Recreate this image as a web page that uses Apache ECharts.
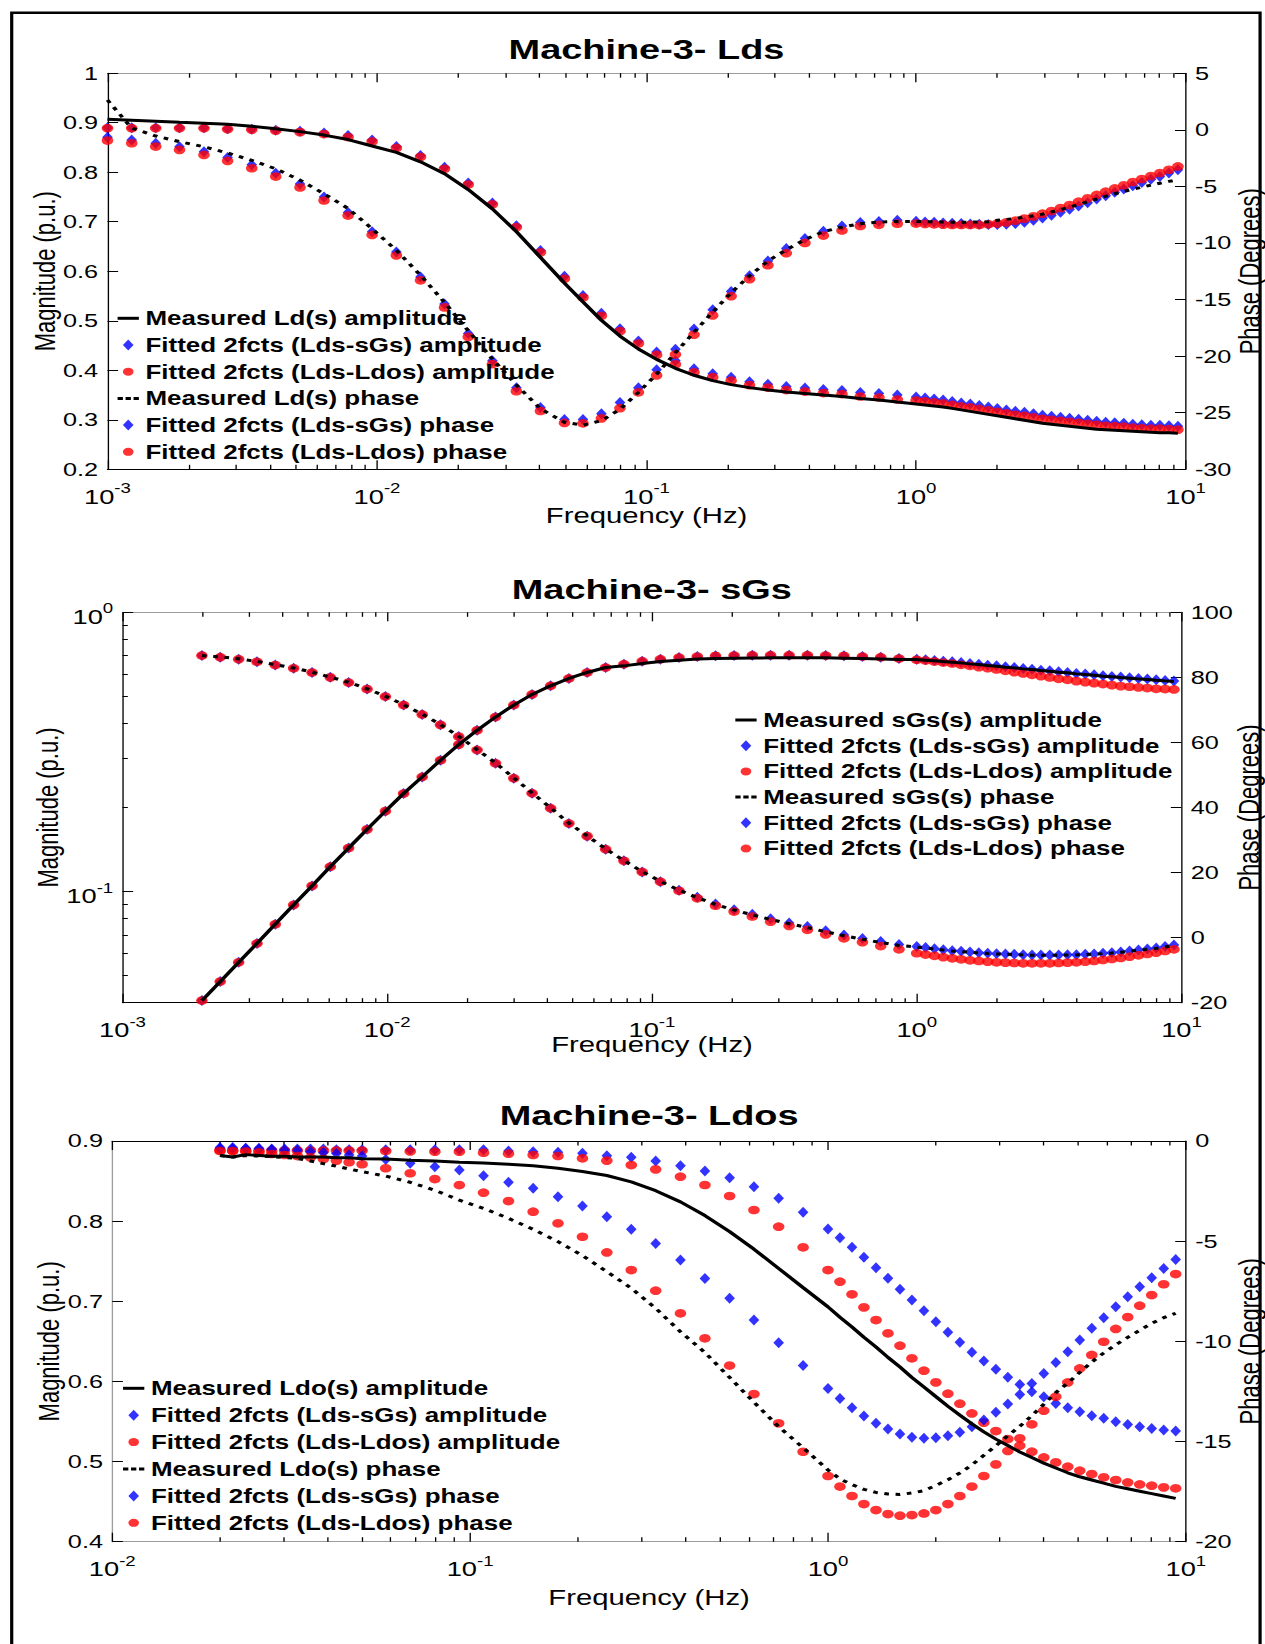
<!DOCTYPE html>
<html lang="en">
<head>
<meta charset="utf-8">
<title>Machine-3 frequency response</title>
<script src="https://cdn.jsdelivr.net/npm/echarts@6/dist/echarts.min.js"></script>
<style>
  html, body { margin: 0; padding: 0; background: #ffffff; }
  #page { width: 1265px; height: 1644px; overflow: hidden; }
  /* the figure is laid out on a 951px-wide surface and widened to the full 1265px */
  #fig { width: 951px; height: 1644px; transform: scaleX(1.33018); transform-origin: 0 0; }
</style>
</head>
<body>
<div id="page"><div id="fig"></div></div>
<script>
// ---------------- Machine-3, Lds ----------------
const ldsFreq = [0.001, 0.00123, 0.00151, 0.00185, 0.00228, 0.00279, 0.00343, 0.00421, 0.00518, 0.00636, 0.00781, 0.00959, 0.0118, 0.0145, 0.0178, 0.0218, 0.0268, 0.0329, 0.0404, 0.0496,
  0.0581, 0.068, 0.0797, 0.0933, 0.109, 0.128, 0.15, 0.176, 0.206, 0.241, 0.282, 0.33, 0.387, 0.453, 0.531, 0.621, 0.728, 0.852,
  1, 1.08, 1.167, 1.26, 1.362, 1.471, 1.589, 1.716, 1.854, 2.002, 2.163, 2.336, 2.524, 2.726, 2.945, 3.181, 3.436, 3.712, 4.009, 4.331, 4.678, 5.053, 5.459, 5.896, 6.369, 6.88, 7.432, 8.028, 8.672, 9.367];
const ldsAmpMeasured = [0.907, 0.905, 0.903, 0.901, 0.899, 0.897, 0.893, 0.888, 0.882, 0.875, 0.866, 0.853, 0.840, 0.821, 0.797, 0.765, 0.726, 0.680, 0.628, 0.576,
  0.538, 0.501, 0.469, 0.443, 0.422, 0.404, 0.390, 0.379, 0.371, 0.365, 0.360, 0.356, 0.353, 0.350, 0.347, 0.343, 0.340, 0.336,
  0.332, 0.330, 0.328, 0.326, 0.323, 0.320, 0.317, 0.314, 0.311, 0.308, 0.305, 0.302, 0.299, 0.296, 0.293, 0.291, 0.289, 0.287, 0.285, 0.283, 0.281, 0.280, 0.279, 0.278, 0.277, 0.276, 0.275, 0.274, 0.274, 0.273];
const ldsAmpFitSgs = [0.890, 0.890, 0.890, 0.890, 0.890, 0.888, 0.887, 0.885, 0.883, 0.879, 0.874, 0.865, 0.852, 0.834, 0.810, 0.778, 0.738, 0.692, 0.642, 0.590,
  0.551, 0.515, 0.484, 0.459, 0.437, 0.419, 0.403, 0.393, 0.386, 0.377, 0.372, 0.367, 0.364, 0.361, 0.359, 0.355, 0.353, 0.350,
  0.346, 0.344, 0.342, 0.340, 0.337, 0.334, 0.332, 0.329, 0.326, 0.323, 0.320, 0.317, 0.315, 0.312, 0.309, 0.307, 0.305, 0.303, 0.301, 0.299, 0.297, 0.295, 0.294, 0.293, 0.291, 0.290, 0.289, 0.289, 0.288, 0.287];
const ldsAmpFitLdos = [0.889, 0.889, 0.889, 0.889, 0.889, 0.887, 0.886, 0.884, 0.881, 0.877, 0.871, 0.862, 0.849, 0.831, 0.807, 0.775, 0.735, 0.689, 0.638, 0.585,
  0.547, 0.510, 0.479, 0.454, 0.431, 0.412, 0.396, 0.386, 0.379, 0.370, 0.365, 0.360, 0.357, 0.354, 0.352, 0.347, 0.345, 0.341,
  0.339, 0.337, 0.335, 0.333, 0.330, 0.327, 0.325, 0.322, 0.319, 0.316, 0.313, 0.310, 0.308, 0.305, 0.302, 0.300, 0.298, 0.296, 0.294, 0.292, 0.290, 0.288, 0.287, 0.286, 0.284, 0.283, 0.282, 0.282, 0.281, 0.280];
const ldsPhaseMeasured = [2.63, 0.15, -0.55, -1.05, -1.5, -2.05, -2.7, -3.45, -4.45, -5.65, -6.95, -8.75, -10.65, -12.85, -15.25, -17.75, -20.25, -22.55, -24.65, -25.85,
  -26.1, -25.7, -24.7, -23.2, -21.6, -19.7, -17.9, -16.1, -14.4, -12.9, -11.6, -10.6, -9.7, -9.0, -8.6, -8.3, -8.15, -8.1,
  -8.1, -8.12, -8.14, -8.15, -8.16, -8.16, -8.16, -8.15, -8.13, -8.0, -7.92, -7.83, -7.72, -7.6, -7.45, -7.26, -7.05, -6.82, -6.6, -6.36, -6.12, -5.88, -5.65, -5.45, -5.26, -5.07, -4.89, -4.72, -4.56, -4.41];
const ldsPhaseFitSgs = [-0.65, -0.9, -1.2, -1.5, -1.95, -2.45, -3.1, -3.85, -4.8, -5.95, -7.3, -9.0, -10.8, -13.0, -15.4, -18.0, -20.4, -22.8, -24.55, -25.6,
  -25.6, -25.1, -24.1, -22.8, -21.2, -19.4, -17.6, -15.9, -14.3, -12.9, -11.6, -10.5, -9.6, -8.97, -8.5, -8.2, -8.1, -8.0,
  -8.09, -8.15, -8.18, -8.24, -8.26, -8.29, -8.32, -8.35, -8.38, -8.38, -8.35, -8.29, -8.18, -8.0, -7.79, -7.56, -7.29, -7.03, -6.74, -6.44, -6.12, -5.82, -5.53, -5.24, -4.94, -4.65, -4.38, -4.12, -3.82, -3.53];
const ldsPhaseFitLdos = [-0.95, -1.19, -1.48, -1.78, -2.22, -2.75, -3.4, -4.13, -5.1, -6.25, -7.58, -9.29, -11.1, -13.3, -15.7, -18.3, -20.7, -23.1, -24.85, -25.9,
  -25.94, -25.5, -24.6, -23.2, -21.7, -19.85, -18.1, -16.4, -14.7, -13.2, -11.97, -10.9, -10.0, -9.35, -8.9, -8.5, -8.4, -8.3,
  -8.29, -8.32, -8.35, -8.38, -8.41, -8.41, -8.41, -8.41, -8.35, -8.29, -8.18, -8.03, -7.85, -7.65, -7.41, -7.18, -6.91, -6.65, -6.35, -6.06, -5.76, -5.47, -5.18, -4.91, -4.62, -4.35, -4.09, -3.82, -3.53, -3.24];

// ---------------- Machine-3, sGs ----------------
const sgsFreq = [0.001995, 0.002339, 0.002746, 0.003221, 0.003776, 0.00443, 0.0052, 0.006095, 0.007145, 0.00839, 0.00984, 0.01153, 0.01355, 0.01589, 0.01862, 0.02184, 0.02564, 0.03006, 0.03524, 0.0414,
  0.04853, 0.05689, 0.06683, 0.07834, 0.09183, 0.1076, 0.1265, 0.1483, 0.1738, 0.2042, 0.2393, 0.2805, 0.3296, 0.3864, 0.4529, 0.5309, 0.6237, 0.7311, 0.857,
  1, 1.08, 1.167, 1.26, 1.362, 1.471, 1.589, 1.716, 1.854, 2.002, 2.163, 2.336, 2.524, 2.726, 2.945, 3.181, 3.436, 3.712, 4.009, 4.331, 4.678, 5.053, 5.459, 5.896, 6.369, 6.88, 7.432, 8.028, 8.672, 9.367];
const sgsAmpMeasured = [0.0407, 0.0476, 0.0558, 0.0652, 0.0764, 0.0896, 0.1048, 0.1228, 0.1432, 0.167, 0.1941, 0.2245, 0.2574, 0.2953, 0.3359, 0.3779, 0.4217, 0.4654, 0.5081, 0.5455,
  0.5796, 0.6088, 0.6343, 0.643, 0.656, 0.667, 0.674, 0.68, 0.683, 0.685, 0.686, 0.687, 0.687, 0.687, 0.687, 0.685, 0.683, 0.68, 0.677,
  0.6774, 0.6738, 0.6701, 0.6664, 0.6628, 0.659, 0.6536, 0.65, 0.6447, 0.6411, 0.6359, 0.6324, 0.6272, 0.6238, 0.6187, 0.6153, 0.6103, 0.607, 0.6019, 0.5987, 0.5954, 0.5905, 0.5873, 0.584, 0.5808, 0.5776, 0.5744, 0.5712, 0.5681, 0.565];
const sgsAmpFitSgs = [0.0407, 0.0476, 0.0558, 0.0652, 0.0764, 0.0896, 0.1048, 0.1228, 0.1432, 0.167, 0.1941, 0.2245, 0.2574, 0.2953, 0.3359, 0.3779, 0.4217, 0.4654, 0.5081, 0.5455,
  0.5796, 0.6088, 0.6343, 0.652, 0.6683, 0.6794, 0.6887, 0.6945, 0.6983, 0.7002, 0.7021, 0.7021, 0.7021, 0.7021, 0.7002, 0.6983, 0.6945, 0.6907, 0.6832,
  0.6794, 0.6758, 0.6721, 0.6684, 0.6648, 0.661, 0.6556, 0.652, 0.6467, 0.6431, 0.6379, 0.6344, 0.6292, 0.6258, 0.6207, 0.6173, 0.6123, 0.609, 0.6039, 0.6007, 0.5974, 0.5925, 0.5893, 0.586, 0.5828, 0.5796, 0.5764, 0.5732, 0.5701, 0.567];
const sgsAmpFitLdos = [0.0407, 0.0476, 0.0558, 0.0652, 0.0764, 0.0896, 0.1048, 0.1228, 0.1432, 0.167, 0.1941, 0.2245, 0.2574, 0.2953, 0.3359, 0.3779, 0.4217, 0.4654, 0.5081, 0.5455,
  0.5796, 0.6088, 0.6343, 0.652, 0.6683, 0.6794, 0.6887, 0.6945, 0.6983, 0.7002, 0.7021, 0.7021, 0.7021, 0.7021, 0.7002, 0.6983, 0.6945, 0.6907, 0.6832,
  0.6758, 0.6721, 0.6665, 0.661, 0.6556, 0.6484, 0.6431, 0.6361, 0.631, 0.6241, 0.6173, 0.6106, 0.6039, 0.5974, 0.5908, 0.5844, 0.578, 0.5732, 0.567, 0.5623, 0.5577, 0.5532, 0.5486, 0.5441, 0.5412, 0.5383, 0.5353, 0.5323, 0.5309, 0.5294];
const sgsPhaseMeasured = [86.7, 86.3, 85.7, 84.9, 83.9, 82.9, 81.6, 80.1, 78.5, 76.5, 74.2, 71.6, 68.7, 65.5, 61.9, 57.8, 53.7, 49.1, 44.5, 39.9,
  35.2, 31.3, 27.3, 23.7, 20.3, 17.3, 14.6, 12.3, 10.2, 8.5, 7.0, 5.6, 4.3, 3.1, 1.8, 0.6, -0.5, -1.5, -2.4,
  -2.9, -3.2, -3.5, -3.8, -4.1, -4.3, -4.5, -4.7, -4.9, -5.0, -5.1, -5.2, -5.3, -5.4, -5.4, -5.4, -5.4, -5.3, -5.3, -5.2, -5.1, -4.9, -4.7, -4.5, -4.2, -3.9, -3.6, -3.3, -2.9, -2.4];
const sgsPhaseFitSgs = [86.7, 86.2, 85.6, 84.8, 83.8, 82.8, 81.5, 80.0, 78.4, 76.4, 74.1, 71.5, 68.6, 65.4, 61.8, 57.7, 53.6, 49.0, 44.4, 39.8,
  35.1, 31.2, 27.2, 23.6, 20.2, 17.2, 14.6, 12.4, 10.3, 8.6, 7.2, 5.8, 4.5, 3.4, 2.1, 0.8, -0.3, -1.2, -2.1,
  -2.76, -3.07, -3.38, -3.69, -4.0, -4.2, -4.41, -4.61, -4.81, -4.92, -5.02, -5.12, -5.23, -5.33, -5.33, -5.33, -5.33, -5.23, -5.23, -5.12, -5.02, -4.81, -4.61, -4.41, -4.1, -3.79, -3.48, -3.18, -2.76, -2.25];
const sgsPhaseFitLdos = [86.7, 86.2, 85.6, 84.8, 83.8, 82.8, 81.5, 80.0, 78.4, 76.4, 74.1, 71.5, 68.6, 65.4, 61.8, 57.7, 53.6, 49.0, 44.4, 39.8,
  35.1, 31.2, 27.2, 23.6, 20.2, 17.2, 14.4, 12.1, 9.8, 8.0, 6.5, 4.9, 3.6, 2.4, 1.0, -0.2, -1.4, -2.6, -3.6,
  -4.8, -5.2, -5.6, -6.0, -6.35, -6.66, -6.97, -7.17, -7.38, -7.58, -7.68, -7.79, -7.89, -7.89, -7.89, -7.89, -7.79, -7.68, -7.58, -7.38, -7.17, -6.86, -6.56, -6.25, -5.84, -5.43, -5.02, -4.61, -4.1, -3.59];

// ---------------- Machine-3, Ldos ----------------
const ldosFreq = [0.02, 0.0217, 0.0236, 0.0257, 0.0279, 0.0303, 0.0329, 0.0358, 0.0389, 0.0423, 0.0459, 0.0499,
  0.0581, 0.068, 0.0797, 0.0933, 0.109, 0.128, 0.15, 0.176, 0.206, 0.241, 0.282, 0.33, 0.387, 0.453, 0.531, 0.621, 0.728, 0.852,
  1, 1.08, 1.167, 1.26, 1.362, 1.471, 1.589, 1.716, 1.854, 2.002, 2.163, 2.336, 2.524, 2.726, 2.945, 3.181, 3.436, 3.712, 4.009, 4.331, 4.678, 5.053, 5.459, 5.896, 6.369, 6.88, 7.432, 8.028, 8.672, 9.367];
const ldosAmpMeasured = [0.882, 0.880, 0.883, 0.882, 0.881, 0.881, 0.880, 0.880, 0.880, 0.879, 0.879, 0.878,
  0.8775, 0.876, 0.875, 0.8735, 0.8725, 0.871, 0.869, 0.866, 0.862, 0.857, 0.849, 0.838, 0.824, 0.807, 0.787, 0.765, 0.741, 0.717,
  0.693, 0.680, 0.668, 0.655, 0.643, 0.630, 0.618, 0.605, 0.593, 0.581, 0.569, 0.558, 0.547, 0.537, 0.528, 0.520, 0.512, 0.505, 0.498, 0.492, 0.486, 0.481, 0.477, 0.473, 0.469, 0.466, 0.463, 0.460, 0.457, 0.454];
const ldosAmpFitSgs = [0.892, 0.892, 0.891, 0.891, 0.890, 0.890, 0.890, 0.890, 0.890, 0.889, 0.889, 0.889,
  0.889, 0.889, 0.889, 0.889, 0.889, 0.8875, 0.8867, 0.8859, 0.8846, 0.8817, 0.8796, 0.875, 0.8692, 0.8626, 0.8542, 0.843, 0.8285, 0.811,
  0.7902, 0.7794, 0.7673, 0.7548, 0.7419, 0.7286, 0.7149, 0.7016, 0.6883, 0.6745, 0.6612, 0.6488, 0.6363, 0.6255, 0.6151, 0.6051, 0.5963, 0.5872, 0.5809, 0.5726, 0.5672, 0.5622, 0.5572, 0.5539, 0.5498, 0.5464, 0.5435, 0.5414, 0.5393, 0.5381];
const ldosAmpFitLdos = [0.8884, 0.888, 0.888, 0.888, 0.888, 0.888, 0.888, 0.888, 0.888, 0.888, 0.888, 0.888,
  0.8875, 0.887, 0.8867, 0.8867, 0.8854, 0.8842, 0.8825, 0.8813, 0.8784, 0.8755, 0.87, 0.8646, 0.8555, 0.8451, 0.8314, 0.8139, 0.7931, 0.7673,
  0.739, 0.7245, 0.7087, 0.6924, 0.6766, 0.66, 0.6446, 0.6288, 0.6134, 0.5988, 0.5847, 0.5722, 0.5601, 0.5485, 0.5381, 0.5281, 0.5198, 0.5123, 0.5052, 0.499, 0.4936, 0.4886, 0.4844, 0.4803, 0.477, 0.474, 0.4715, 0.4699, 0.4678, 0.4666];
const ldosPhaseMeasured = [-0.73, -0.8, -0.73, -0.75, -0.78, -0.82, -0.87, -1.0, -1.13, -1.26, -1.4, -1.53,
  -1.75, -2.06, -2.46, -2.95, -3.36, -3.86, -4.41, -5.02, -5.72, -6.52, -7.35, -8.35, -9.52, -10.56, -11.8, -13.04, -14.26, -15.31,
  -16.42, -16.87, -17.15, -17.39, -17.54, -17.62, -17.64, -17.57, -17.45, -17.19, -16.91, -16.57, -16.17, -15.69, -15.21, -14.71, -14.24, -13.71, -13.14, -12.56, -12.08, -11.55, -11.03, -10.58, -10.17, -9.8, -9.45, -9.1, -8.82, -8.6];
const ldosPhaseFitSgs = [-0.37, -0.37, -0.38, -0.4, -0.42, -0.45, -0.48, -0.53, -0.58, -0.63, -0.7, -0.75,
  -0.92, -1.11, -1.28, -1.45, -1.73, -2.06, -2.36, -2.78, -3.24, -3.78, -4.41, -5.11, -5.94, -6.86, -7.85, -8.94, -10.07, -11.21,
  -12.35, -12.85, -13.31, -13.73, -14.09, -14.38, -14.63, -14.79, -14.84, -14.81, -14.71, -14.54, -14.26, -13.93, -13.54, -13.13, -12.65, -12.1, -11.6, -11.05, -10.52, -9.93, -9.35, -8.82, -8.27, -7.77, -7.27, -6.82, -6.36, -5.91];
const ldosPhaseFitLdos = [-0.5, -0.5, -0.53, -0.57, -0.65, -0.7, -0.75, -0.82, -0.9, -0.98, -1.06, -1.16,
  -1.36, -1.61, -1.9, -2.2, -2.58, -3.0, -3.53, -4.11, -4.78, -5.56, -6.44, -7.47, -8.6, -9.85, -11.21, -12.63, -14.09, -15.51,
  -16.72, -17.25, -17.72, -18.12, -18.42, -18.62, -18.7, -18.67, -18.59, -18.42, -18.12, -17.72, -17.25, -16.72, -16.14, -15.47, -14.84, -14.14, -13.46, -12.76, -12.05, -11.35, -10.68, -10.02, -9.38, -8.79, -8.22, -7.69, -7.15, -6.64];

// legend entries of each panel
const ldsNames = ['Measured Ld(s) amplitude', 'Fitted 2fcts (Lds-sGs) amplitude', 'Fitted 2fcts (Lds-Ldos) amplitude',
  'Measured Ld(s) phase', 'Fitted 2fcts (Lds-sGs) phase', 'Fitted 2fcts (Lds-Ldos) phase'];
const sgsNames = ['Measured sGs(s) amplitude', 'Fitted 2fcts (Lds-sGs) amplitude', 'Fitted 2fcts (Lds-Ldos) amplitude',
  'Measured sGs(s) phase', 'Fitted 2fcts (Lds-sGs) phase', 'Fitted 2fcts (Lds-Ldos) phase'];
const ldosNames = ['Measured Ldo(s) amplitude', 'Fitted 2fcts (Lds-sGs) amplitude', 'Fitted 2fcts (Lds-Ldos) amplitude',
  'Measured Ldo(s) phase', 'Fitted 2fcts (Lds-sGs) phase', 'Fitted 2fcts (Lds-Ldos) phase'];

// ---------------- styling helpers ----------------
const FONT = 'Liberation Sans';
const INK = '#000000', GREY = '#9c9c9c', BLUE = '#0000ff', RED = '#ff0000';
const lg = Math.log10;
const pairs = (f, v) => f.map((x, i) => [x, v[i]]);

// "10^n" labels for logarithmic axes
function powerLabel(v) {
  const e = lg(v), r = Math.round(e);
  if (Math.abs(e - r) > 1e-6) return '';
  return '{b|10}{s|' + r + '}';
}
const powerRich = {
  b: { fontFamily: FONT, fontSize: 20.5, color: INK, lineHeight: 28 },
  s: { fontFamily: FONT, fontSize: 14, color: INK, height: 12, lineHeight: 12, verticalAlign: 'top' }
};
const tickFont = { fontFamily: FONT, fontSize: 19, color: INK };
const nameFont = { fontFamily: FONT, fontSize: 22, color: INK, lineHeight: 22 };

// decade and 2..9 sub-decade positions (in log10 units) for the tick marks
function logTicks(lo, hi) {
  const major = [], minor = [];
  for (let e = Math.floor(lo); e <= Math.ceil(hi); e++) {
    if (e >= lo - 1e-9 && e <= hi + 1e-9) major.push(e);
    for (let k = 2; k <= 9; k++) {
      const v = e + lg(k);
      if (v > lo + 1e-9 && v < hi - 1e-9) minor.push(v);
    }
  }
  return { major, minor };
}
function tickAxis(gridIndex, position, lo, hi, values, len) {
  return {
    type: 'value', gridIndex, position, min: lo, max: hi, silent: true,
    axisLine: { show: false, onZero: false }, splitLine: { show: false }, axisLabel: { show: false },
    axisTick: { show: true, inside: true, length: len, customValues: values, lineStyle: { color: INK, width: 1 } }
  };
}

const xAxes = [], yAxes = [];
function addFreqAxes(g, lo, hi, nameGap, bottomColor, topColor) {
  const a = lg(lo), b = lg(hi), t = logTicks(a, b);
  const main = xAxes.length;
  xAxes.push({
    type: 'log', logBase: 10, gridIndex: g, position: 'bottom', min: lo, max: hi,
    name: 'Frequency (Hz)', nameLocation: 'middle', nameGap, nameMoveOverlap: false, nameTextStyle: nameFont,
    axisLine: { show: true, onZero: false, lineStyle: { color: bottomColor, width: 1 } },
    axisTick: { show: false }, minorTick: { show: false }, splitLine: { show: false },
    axisLabel: { show: true, margin: 13, formatter: powerLabel, rich: powerRich, color: INK }
  });
  xAxes.push({
    type: 'log', logBase: 10, gridIndex: g, position: 'top', min: lo, max: hi,
    axisLine: { show: true, onZero: false, lineStyle: { color: topColor, width: 1 } },
    axisTick: { show: false }, axisLabel: { show: false }, splitLine: { show: false }
  });
  xAxes.push(tickAxis(g, 'bottom', a, b, t.major, 9));
  xAxes.push(tickAxis(g, 'bottom', a, b, t.minor, 4.5));
  xAxes.push(tickAxis(g, 'top', a, b, t.major, 9));
  xAxes.push(tickAxis(g, 'top', a, b, t.minor, 4.5));
  return main;
}
function valueAxis(g, position, min, max, interval, name, nameGap, lineColor) {
  yAxes.push({
    type: 'value', gridIndex: g, position, min, max, interval,
    name, nameLocation: 'middle', nameGap, nameRotate: 90, nameMoveOverlap: false, nameTextStyle: nameFont,
    axisLine: { show: true, onZero: false, lineStyle: { color: lineColor, width: 1 } },
    axisTick: { show: true, inside: true, length: 8, lineStyle: { color: INK, width: 1 } },
    axisLabel: Object.assign({ margin: 7 }, tickFont),
    splitLine: { show: false }
  });
  return yAxes.length - 1;
}

// ---------------- axes ----------------
const x0 = addFreqAxes(0, 0.001, 10, 35, INK, GREY);
const x1 = addFreqAxes(1, 0.001, 10, 31, INK, GREY);
const x2 = addFreqAxes(2, 0.01, 10, 45, GREY, INK);

const y0L = valueAxis(0, 'left', 0.2, 1, 0.1, 'Magnitude (p.u.)', 36, INK);
const y0R = valueAxis(0, 'right', -30, 5, 5, 'Phase (Degrees)', 37, INK);

yAxes.push({
  type: 'log', logBase: 10, gridIndex: 1, position: 'left', min: 0.04, max: 1,
  name: 'Magnitude (p.u.)', nameLocation: 'middle', nameGap: 45, nameRotate: 90, nameMoveOverlap: false, nameTextStyle: nameFont,
  axisLine: { show: true, onZero: false, lineStyle: { color: INK, width: 1 } },
  axisTick: { show: false }, minorTick: { show: false }, splitLine: { show: false },
  axisLabel: { margin: 7, formatter: powerLabel, rich: powerRich, color: INK, padding: [8, 0, 0, 0] }
});
const y1L = yAxes.length - 1;
const y1R = valueAxis(1, 'right', -20, 100, 20, 'Phase (Degrees)', 40, INK);
const magTicks = logTicks(lg(0.04), 0);
yAxes.push(tickAxis(1, 'left', lg(0.04), 0, magTicks.major, 8));
yAxes.push(tickAxis(1, 'left', lg(0.04), 0, magTicks.minor, 4));

const y2L = valueAxis(2, 'left', 0.4, 0.9, 0.1, 'Magnitude (p.u.)', 37, GREY);
const y2R = valueAxis(2, 'right', -20, 0, 5, 'Phase (Degrees)', 37, INK);

// ---------------- series ----------------
function panelSeries(xi, yl, yr, names, f, ampM, ampS, ampL, phM, phS, phL) {
  const line = (name, y, vals, dash) => ({
    name, type: 'line', xAxisIndex: xi, yAxisIndex: y, data: pairs(f, vals),
    symbol: 'none', showSymbol: false, silent: true,
    lineStyle: { color: INK, width: 3, type: dash ? [3.5, 5] : 'solid' }, itemStyle: { color: INK }
  });
  const dots = (name, y, vals, shape, color) => ({
    name, type: 'scatter', xAxisIndex: xi, yAxisIndex: y, data: pairs(f, vals), silent: true,
    symbol: shape, symbolSize: shape === 'diamond' ? [8, 11] : 8.7, itemStyle: { color }
  });
  return [
    line(names[0], yl, ampM, false),
    dots(names[1], yl, ampS, 'diamond', BLUE),
    dots(names[2], yl, ampL, 'circle', RED),
    line(names[3], yr, phM, true),
    dots(names[4], yr, phS, 'diamond', BLUE),
    dots(names[5], yr, phL, 'circle', RED)
  ];
}

const series = [].concat(
  panelSeries(x0, y0L, y0R, ldsNames, ldsFreq, ldsAmpMeasured, ldsAmpFitSgs, ldsAmpFitLdos, ldsPhaseMeasured, ldsPhaseFitSgs, ldsPhaseFitLdos),
  panelSeries(x1, y1L, y1R, sgsNames, sgsFreq, sgsAmpMeasured, sgsAmpFitSgs, sgsAmpFitLdos, sgsPhaseMeasured, sgsPhaseFitSgs, sgsPhaseFitLdos),
  panelSeries(x2, y2L, y2R, ldosNames, ldosFreq, ldosAmpMeasured, ldosAmpFitSgs, ldosAmpFitLdos, ldosPhaseMeasured, ldosPhaseFitSgs, ldosPhaseFitLdos)
);

// ---------------- legends ----------------
const ICON = {
  solid: 'path://M0,0L0,0M16,11L16,11M0,4h16v3h-16Z',
  dotted: 'path://M0,0L0,0M16,11L16,11M0,4h4v3h-4ZM6,4h4v3h-4ZM12,4h4v3h-4Z',
  diamond: 'path://M0,0L0,0M16,11L16,11M8,0L12,5.5L8,11L4,5.5Z',
  circle: 'path://M0,0L0,0M16,11L16,11M4,5.5A4,4,0,1,0,12,5.5A4,4,0,1,0,4,5.5Z'
};
function panelLegend(left, top, gap, names) {
  const icons = [ICON.solid, ICON.diamond, ICON.circle, ICON.dotted, ICON.diamond, ICON.circle];
  return {
    orient: 'vertical', left, top, padding: 0, itemGap: gap, itemWidth: 16, itemHeight: 11,
    selectedMode: false, symbolKeepAspect: true, itemStyle: { borderWidth: 0 },
    textStyle: { fontFamily: FONT, fontWeight: 'bold', fontSize: 19.5, color: INK, lineHeight: 20 },
    data: names.map((n, i) => ({ name: n, icon: icons[i] }))
  };
}

const titleFont = { fontFamily: FONT, fontWeight: 'bold', fontSize: 28.5, color: INK, lineHeight: 32 };

const option = {
  animation: false,
  backgroundColor: '#ffffff',
  textStyle: { fontFamily: FONT },
  title: [
    { text: 'Machine-3- Lds', left: 486, top: 33.5, textAlign: 'center', textVerticalAlign: 'top', padding: 0, textStyle: titleFont },
    { text: 'Machine-3- sGs', left: 490, top: 572.8, textAlign: 'center', textVerticalAlign: 'top', padding: 0, textStyle: titleFont },
    { text: 'Machine-3- Ldos', left: 488, top: 1099.5, textAlign: 'center', textVerticalAlign: 'top', padding: 0, textStyle: titleFont }
  ],
  legend: [
    panelLegend(88.4, 308.3, 6.7, ldsNames),
    panelLegend(552.8, 710, 5.7, sgsNames),
    panelLegend(92.5, 1378.3, 6.9, ldosNames)
  ],
  grid: [
    { left: 80.8, top: 73.2, width: 810.5, height: 396.1, containLabel: false, outerBoundsMode: 'none' },
    { left: 92.1, top: 612.3, width: 796.1, height: 390.4, containLabel: false, outerBoundsMode: 'none' },
    { left: 84.4, top: 1141, width: 807.1, height: 400.7, containLabel: false, outerBoundsMode: 'none' }
  ],
  xAxis: xAxes,
  yAxis: yAxes,
  series,
  graphic: [{
    type: 'rect', silent: true, z: 100,
    shape: { x: 8.8, y: 12.7, width: 938.5, height: 1700 },
    style: { fill: 'none', stroke: INK, lineWidth: 2.4 }
  }]
};

const chart = echarts.init(document.getElementById('fig'), null, { renderer: 'svg' });
chart.setOption(option);
</script>
</body>
</html>
